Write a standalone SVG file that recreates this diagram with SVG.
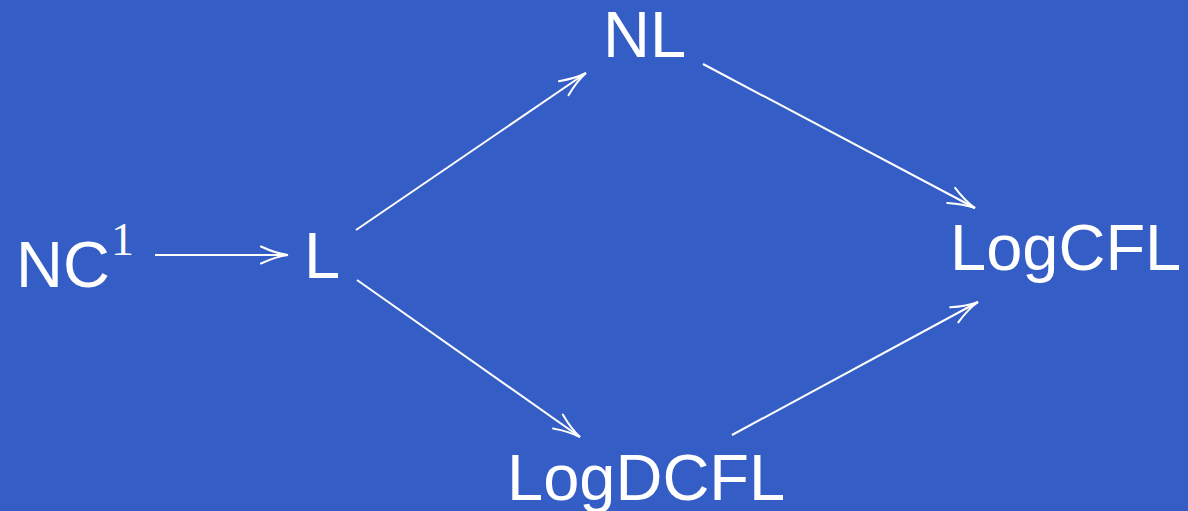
<svg xmlns="http://www.w3.org/2000/svg" width="1188" height="511" viewBox="0 0 1188 511">
  <style>
    .lbl { font-family: "Liberation Sans", Arial, sans-serif; font-size: 65px; fill: #ffffff; }
    .sup { font-family: "Liberation Serif", "Times New Roman", serif; font-size: 46px; fill: #ffffff; }
    .edge { stroke: #ffffff; stroke-width: 2; fill: none; }
  </style>
  <defs>
    <!-- open curved arrowhead, tip at the line end -->
    <marker id="arr" markerUnits="userSpaceOnUse" viewBox="-30 -10 32 20" refX="0" refY="0" markerWidth="32" markerHeight="20" orient="auto" overflow="visible">
      <path d="M -27 -8.5 Q -12 -1.5 0 0 Q -12 1.5 -27 8.5" stroke="#ffffff" stroke-width="2" fill="none" stroke-linecap="round"/>
    </marker>
  </defs>
  <rect width="1188" height="511" fill="#345dc5"/>

  <g id="connectors">
    <line class="edge" x1="155" y1="255" x2="288" y2="255" marker-end="url(#arr)"/>
    <line class="edge" x1="356" y1="230" x2="586" y2="73" marker-end="url(#arr)"/>
    <line class="edge" x1="703" y1="64" x2="975" y2="208" marker-end="url(#arr)"/>
    <line class="edge" x1="357" y1="280" x2="580" y2="437" marker-end="url(#arr)"/>
    <line class="edge" x1="732" y1="435" x2="978" y2="302" marker-end="url(#arr)"/>
  </g>

  <g id="nc1">
    <text class="lbl" x="16" y="287">NC</text>
    <text class="sup" x="111" y="255">1</text>
  </g>
  <g id="l">
    <text class="lbl" x="304" y="278">L</text>
  </g>
  <g id="nl">
    <text class="lbl" x="603" y="57">NL</text>
  </g>
  <g id="logcfl">
    <text class="lbl" x="950" y="270">LogCFL</text>
  </g>
  <g id="logdcfl">
    <text class="lbl" x="507" y="500">LogDCFL</text>
  </g>
</svg>
